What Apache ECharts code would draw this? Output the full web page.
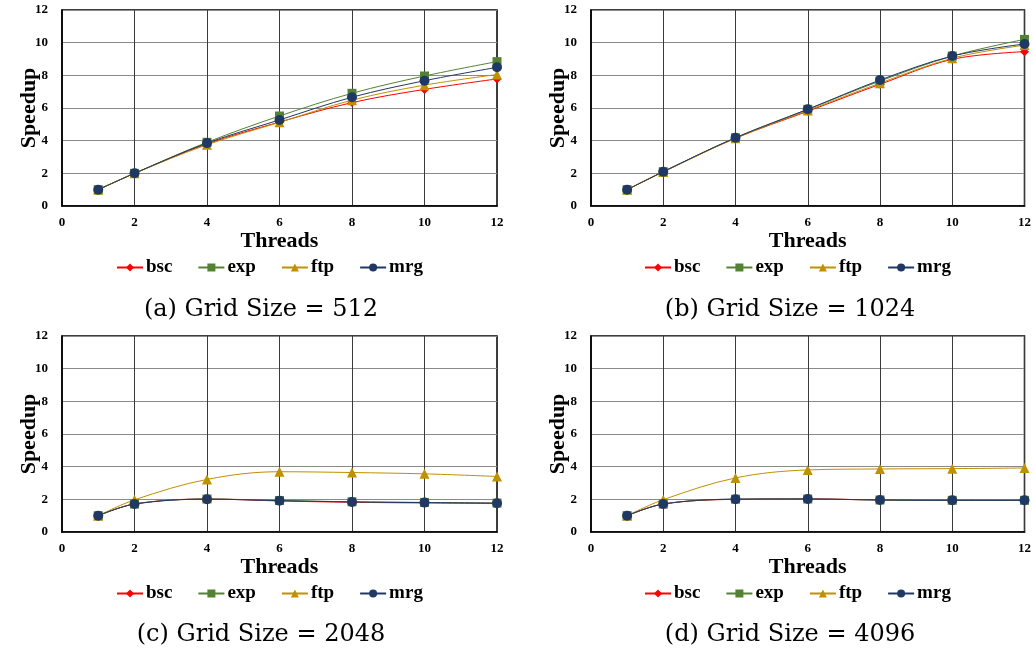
<!DOCTYPE html>
<html>
<head>
<meta charset="utf-8">
<script src="https://cdn.jsdelivr.net/npm/echarts@6/dist/echarts.min.js"></script>
<style>
html,body{margin:0;padding:0;background:#fff;}
#chart{width:1034px;height:650px;}
</style>
</head>
<body>
<div id="chart"></div>
<script>
// ---- data ----
var threads = [1, 2, 4, 6, 8, 10, 12];
var seriesNames = ['bsc', 'exp', 'ftp', 'mrg'];
var captions = ['(a) Grid Size = 512', '(b) Grid Size = 1024', '(c) Grid Size = 2048', '(d) Grid Size = 4096'];
var xTicks = [0, 2, 4, 6, 8, 10, 12];
var yTicks = [0, 2, 4, 6, 8, 10, 12];

// panel (a) grid 512
var a_bsc = [1.0, 2.0, 3.80, 5.14, 6.33, 7.14, 7.78];
var a_exp = [1.0, 2.0, 3.90, 5.51, 6.90, 7.96, 8.84];
var a_ftp = [1.0, 2.0, 3.75, 5.12, 6.48, 7.40, 8.05];
var a_mrg = [1.0, 2.0, 3.85, 5.27, 6.66, 7.67, 8.49];
// panel (b) grid 1024
var b_bsc = [1.0, 2.1, 4.15, 5.80, 7.45, 8.98, 9.45];
var b_exp = [1.0, 2.1, 4.18, 5.92, 7.65, 9.18, 10.20];
var b_ftp = [1.0, 2.08, 4.15, 5.85, 7.52, 9.05, 9.85];
var b_mrg = [1.0, 2.1, 4.18, 5.92, 7.71, 9.18, 9.92];
// panel (c) grid 2048
var c_bsc = [1.0, 1.72, 2.02, 1.90, 1.82, 1.78, 1.76];
var c_exp = [1.0, 1.71, 2.02, 1.93, 1.85, 1.81, 1.77];
var c_ftp = [1.0, 1.97, 3.22, 3.69, 3.64, 3.56, 3.40];
var c_mrg = [1.0, 1.71, 2.01, 1.92, 1.84, 1.80, 1.76];
// panel (d) grid 4096
var d_bsc = [1.0, 1.72, 2.00, 2.03, 1.96, 1.94, 1.94];
var d_exp = [1.0, 1.71, 2.01, 2.02, 1.96, 1.94, 1.94];
var d_ftp = [1.0, 1.98, 3.31, 3.80, 3.86, 3.88, 3.92];
var d_mrg = [1.0, 1.71, 2.01, 2.02, 1.96, 1.94, 1.94];

var panels = [
  [a_bsc, a_exp, a_ftp, a_mrg],
  [b_bsc, b_exp, b_ftp, b_mrg],
  [c_bsc, c_exp, c_ftp, c_mrg],
  [d_bsc, d_exp, d_ftp, d_mrg]
];

// ---- styling ----
var colors = { bsc: '#FF0000', exp: '#548235', ftp: '#BF9000', mrg: '#203864' };
var symbols = { bsc: 'diamond', exp: 'rect', ftp: 'triangle', mrg: 'circle' };
var symSizes = { bsc: 9, exp: 9, ftp: 10, mrg: 10 };
var gridPos = [
  { left: 62, top: 10, width: 435, height: 196 },
  { left: 591, top: 10, width: 434, height: 196 },
  { left: 62, top: 336, width: 435, height: 196 },
  { left: 591, top: 336, width: 434, height: 196 }
];
var legendPos = [
  { left: 111, top: 253 },
  { left: 639, top: 253 },
  { left: 111, top: 579 },
  { left: 639, top: 579 }
];
var captionPos = [
  { x: 256, y: 305 },
  { x: 785, y: 305 },
  { x: 256, y: 630 },
  { x: 785, y: 630 }
];

var grids = [], xAxes = [], yAxes = [], series = [], legends = [], titles = [];
for (var p = 0; p < 4; p++) {
  grids.push(Object.assign({ show: true, borderColor: '#000', borderWidth: 1.5, backgroundColor: '#fff' }, gridPos[p]));
  xAxes.push({
    type: 'value', gridIndex: p, min: 0, max: 12, interval: 2,
    name: 'Threads', nameLocation: 'middle', nameGap: 21,
    nameTextStyle: { fontFamily: 'Liberation Serif', fontWeight: 'bold', fontSize: 22, color: '#000' },
    axisLine: { show: true, lineStyle: { color: '#000', width: 1.5 } },
    axisTick: { show: false },
    axisLabel: { margin: 10, fontFamily: 'Liberation Serif', fontWeight: 'bold', fontSize: 13, color: '#000' },
    splitLine: { show: true, lineStyle: { color: '#3a3a3a', width: 1 } }
  });
  yAxes.push({
    type: 'value', gridIndex: p, min: 0, max: 12, interval: 2,
    name: 'Speedup', nameLocation: 'middle', nameGap: 22, nameRotate: 90,
    nameMoveOverlap: false,
    nameTextStyle: { fontFamily: 'Liberation Serif', fontWeight: 'bold', fontSize: 22, color: '#000' },
    axisLine: { show: true, lineStyle: { color: '#000', width: 1.5 } },
    axisTick: { show: false },
    axisLabel: { margin: 14, fontFamily: 'Liberation Serif', fontWeight: 'bold', fontSize: 13, color: '#000' },
    splitLine: { show: true, lineStyle: { color: '#8a8a8a', width: 1 } }
  });
  for (var s = 0; s < 4; s++) {
    var nm = seriesNames[s];
    var vals = panels[p][s];
    series.push({
      name: nm, type: 'line', xAxisIndex: p, yAxisIndex: p,
      data: threads.map(function (t, i) { return [t, vals[i]]; }),
      smooth: 0.35,
      symbol: symbols[nm], symbolSize: symSizes[nm],
      showAllSymbol: true,
      lineStyle: { color: colors[nm], width: 1 },
      itemStyle: { color: colors[nm] },
      emphasis: { disabled: true },
      animation: false
    });
  }
  legends.push(Object.assign({
    data: seriesNames,
    orient: 'horizontal',
    itemWidth: 26, itemHeight: 10, itemGap: 25,
    textStyle: { fontFamily: 'Liberation Serif', fontWeight: 'bold', fontSize: 19, color: '#000', padding: [0, 0, 0, -2] },
    selectedMode: false
  }, legendPos[p]));
  titles.push({
    text: captions[p],
    left: captionPos[p].x, top: captionPos[p].y,
    textAlign: 'center', textVerticalAlign: 'middle',
    textStyle: { fontFamily: 'DejaVu Serif', fontWeight: 'normal', fontSize: 24, color: '#000' }
  });
}

var chart = echarts.init(document.getElementById('chart'), null, { renderer: 'canvas' });
chart.setOption({
  animation: false,
  backgroundColor: '#fff',
  title: titles,
  grid: grids,
  xAxis: xAxes,
  yAxis: yAxes,
  legend: legends,
  series: series
});
</script>
</body>
</html>
